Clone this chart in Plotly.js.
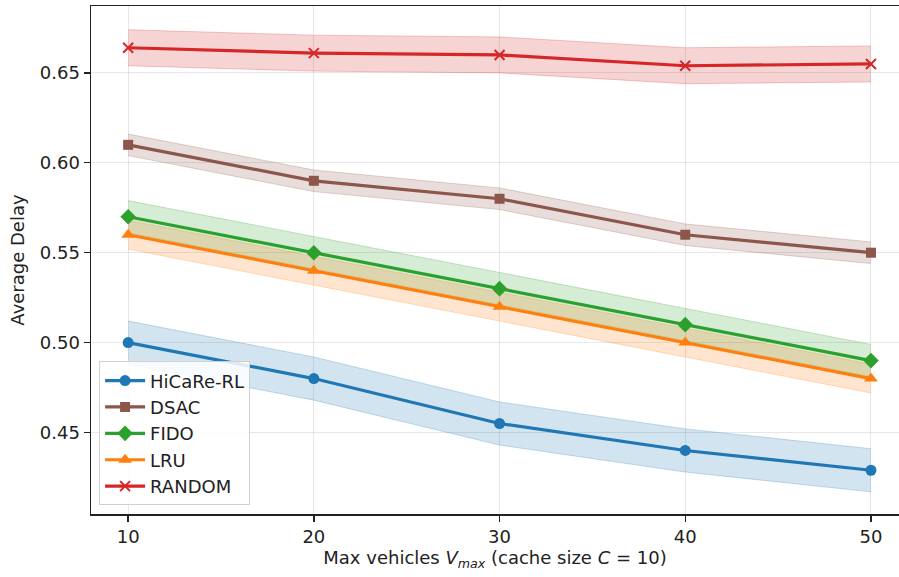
<!DOCTYPE html>
<html>
<head>
<meta charset="utf-8">
<script src="https://cdn.plot.ly/plotly-3.0.1.min.js"></script>
<style>html,body{margin:0;padding:0;overflow:hidden;background:#fff;}</style>
</head>
<body>
<div id="chart" style="width:899px;height:577px;"></div>
<script>
const xVals = [10, 20, 30, 40, 50];
const seriesNames = ["HiCaRe-RL", "DSAC", "FIDO", "LRU", "RANDOM"];
const hicareMean = [0.500, 0.480, 0.455, 0.440, 0.429];
const hicareStd  = [0.012, 0.012, 0.012, 0.012, 0.012];
const dsacMean   = [0.610, 0.590, 0.580, 0.560, 0.550];
const dsacStd    = [0.006, 0.006, 0.006, 0.006, 0.006];
const fidoMean   = [0.570, 0.550, 0.530, 0.510, 0.490];
const fidoStd    = [0.009, 0.009, 0.009, 0.009, 0.009];
const lruMean    = [0.560, 0.540, 0.520, 0.500, 0.480];
const lruStd     = [0.008, 0.008, 0.008, 0.008, 0.008];
const randomMean = [0.664, 0.661, 0.660, 0.654, 0.655];
const randomStd  = [0.010, 0.010, 0.010, 0.010, 0.010];
const xTicks = [10, 20, 30, 40, 50];
const yTicks = [0.45, 0.50, 0.55, 0.60, 0.65];
const yTickLabels = ["0.45", "0.50", "0.55", "0.60", "0.65"];

const means = [hicareMean, dsacMean, fidoMean, lruMean, randomMean];
const stds = [hicareStd, dsacStd, fidoStd, lruStd, randomStd];
const rgb = [[31,119,180],[140,86,75],[44,160,44],[255,127,14],[214,39,40]];
const symbols = ["circle", "square", "diamond", "triangle-up", "x-thin"];
const sizes = [11, 10, 12, 12, 10];

const traces = [];
// bands
for (let i = 0; i < 5; i++) {
  const c = rgb[i].join(",");
  const lo = means[i].map((m, k) => m - stds[i][k]);
  const hi = means[i].map((m, k) => m + stds[i][k]);
  traces.push({x: xVals, y: lo, type: "scatter", mode: "lines",
    line: {color: "rgba(" + c + ",0.25)", width: 1}, showlegend: false, hoverinfo: "skip"});
  traces.push({x: xVals, y: hi, type: "scatter", mode: "lines", fill: "tonexty",
    fillcolor: "rgba(" + c + ",0.2)",
    line: {color: "rgba(" + c + ",0.25)", width: 1}, showlegend: false, hoverinfo: "skip"});
}
// lines
for (let i = 0; i < 5; i++) {
  const c = "rgb(" + rgb[i].join(",") + ")";
  const marker = {symbol: symbols[i], size: sizes[i], color: c};
  if (symbols[i] === "x-thin") marker.line = {color: c, width: 2};
  traces.push({x: xVals, y: means[i], type: "scatter", mode: "lines+markers",
    name: seriesNames[i], line: {color: c, width: 3.2}, marker: marker});
}

const fontFam = "DejaVu Sans, sans-serif";
const fs = 18;
const layout = {
  width: 899, height: 577,
  margin: {l: 91, r: 0, t: 6, b: 63},
  paper_bgcolor: "#fff", plot_bgcolor: "#fff",
  font: {family: fontFam, size: fs, color: "#222"},
  showlegend: true,
  legend: {x: 0.01, y: 0.017, xanchor: "left", yanchor: "bottom", traceorder: "normal",
    bgcolor: "rgba(255,255,255,0.85)", bordercolor: "#d0d0d0", borderwidth: 1,
    itemwidth: 40,
    font: {family: fontFam, size: fs, color: "#222"}, tracegroupgap: 0},
  xaxis: {range: [8, 51.51], tickmode: "array", tickvals: xTicks,
    ticktext: xTicks.map(String),
    showgrid: true, gridcolor: "rgba(176,176,176,0.3)", gridwidth: 1,
    showline: true, linecolor: "#222", linewidth: 1.5, mirror: true,
    ticks: "outside", ticklen: 6, tickwidth: 1.3, tickcolor: "#222",
    zeroline: false, tickfont: {size: fs},
    title: {text: "Max vehicles <i>V</i><sub><i>max</i></sub> (cache size <i>C</i> = 10)",
      font: {size: fs}, standoff: 5}},
  yaxis: {range: [0.40467, 0.68722], tickmode: "array", tickvals: yTicks,
    ticktext: yTickLabels,
    showgrid: true, gridcolor: "rgba(176,176,176,0.3)", gridwidth: 1,
    showline: true, linecolor: "#222", linewidth: 1.5, mirror: false,
    ticks: "outside", ticklen: 6, tickwidth: 1.3, tickcolor: "#222",
    zeroline: false, tickfont: {size: fs},
    title: {text: "Average Delay", font: {size: fs}, standoff: 10}}
};

Plotly.newPlot("chart", traces, layout, {displayModeBar: false, staticPlot: true});
</script>
</body>
</html>
